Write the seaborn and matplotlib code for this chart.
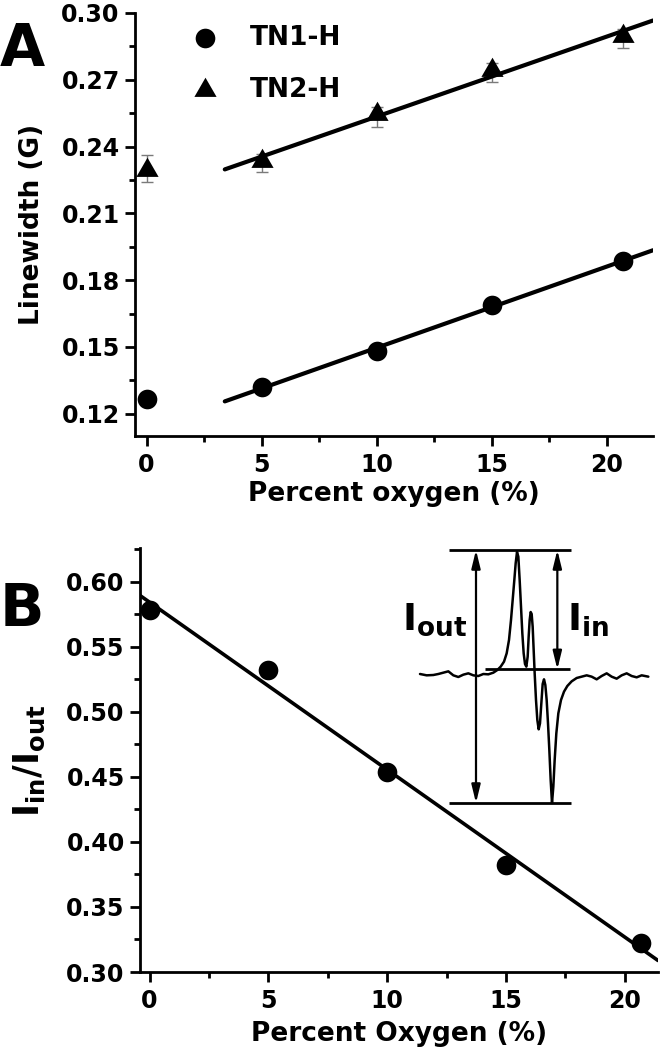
# ============================================
# LINEWIDTH & PEAK RATIO VS OXYGEN
# ============================================

import numpy as np
import pandas as pd
import seaborn as sns
import matplotlib.pyplot as plt
import matplotlib.ticker as mtick

# ============================================
# DATA
# ============================================

oxygen = [0, 5, 10, 15, 20.7]

tn1_width = [0.1267, 0.1321, 0.1480, 0.1690, 0.1885]
tn2_width = [0.2296, 0.2336, 0.2546, 0.2746, 0.2896]
# error bars: lower / upper parts (upper mostly hidden under the marker)
tn2_err_low = [0.0057, 0.0052, 0.0057, 0.0055, 0.0052]
tn2_err_high = [0.0064, 0.0030, 0.0030, 0.0030, 0.0030]

ratio_b = [0.5785, 0.5320, 0.4540, 0.3823, 0.3222]

fit_span_a = [3.4, 22.0]
fit_span_b = [-0.4, 21.4]

# inset spectrum trace (inset-local units, y grows downwards)
spec_x = [60, 80, 100, 115, 130, 145, 160, 175, 190, 205, 220, 235, 250,
          265, 280, 292, 302, 312, 320, 327, 333, 338, 343, 347, 351, 355,
          359, 363, 367, 371, 375, 379, 383, 386, 389, 392, 395, 398, 401,
          404, 408, 412, 416, 420, 424, 428, 432, 436, 440, 444, 448, 452,
          456, 460, 464, 469, 475, 483, 492, 502, 515, 530, 545, 560, 575,
          590, 605, 620, 635, 650, 665, 680, 695, 710, 725, 745]
spec_y = [462, 466, 465, 462, 458, 454, 466, 471, 464, 460, 466, 468, 462,
          463, 458, 450, 440, 425, 400, 360, 300, 240, 180, 130, 96, 110,
          180, 260, 340, 400, 432, 440, 410, 350, 300, 276, 282, 320, 390,
          460, 540, 600, 628, 610, 550, 492, 478, 495, 540, 610, 690, 780,
          849, 800, 720, 640, 580, 540, 515, 498, 484, 474, 470, 466, 470,
          478, 468, 460, 470, 476, 466, 460, 468, 472, 466, 470]

# ============================================
# VISUAL THEME
# ============================================

sns.set_theme(
    style="ticks",
    rc={
        "axes.linewidth": 2.0,
        "xtick.major.width": 2.0,
        "ytick.major.width": 2.0,
        "xtick.minor.width": 2.0,
        "ytick.minor.width": 2.0,
        "xtick.major.size": 7,
        "ytick.major.size": 7,
        "xtick.minor.size": 4,
        "ytick.minor.size": 4,
        "xtick.major.pad": 5,
        "ytick.major.pad": 4,
        "axes.edgecolor": "black",
        "xtick.color": "black",
        "ytick.color": "black",
        "text.color": "black",
        "axes.labelcolor": "black",
    }
)
plt.rcParams["font.family"] = ["DejaVu Sans"]
plt.rcParams["font.weight"] = "bold"
plt.rcParams["axes.labelweight"] = "bold"
plt.rcParams["mathtext.fontset"] = "dejavusans"

# triangle centred on its centroid (as Origin draws it)
TRIANGLE = [(0, 1), (-0.866, -0.5), (0.866, -0.5), (0, 1)]

fig = plt.figure(figsize=(6.6, 10.5), dpi=100)

# ============================================
# PANEL A: LINEWIDTH
# ============================================

ax = fig.add_axes([135 / 660, 1 - 436 / 1050, 518 / 660, 423 / 1050])

df_tn1 = pd.DataFrame({"oxygen": oxygen, "width": tn1_width})
df_tn2 = pd.DataFrame({"oxygen": oxygen, "width": tn2_width})

ax.errorbar(oxygen, tn2_width, yerr=[tn2_err_low, tn2_err_high],
            fmt="none", ecolor="#7a7a7a", elinewidth=1.0, capsize=4,
            capthick=1.0, zorder=2)

sns.scatterplot(data=df_tn1, x="oxygen", y="width", marker="o",
                color="black", s=200, linewidth=0, label="TN1-H",
                ax=ax, zorder=3)
sns.scatterplot(data=df_tn2, x="oxygen", y="width", marker=TRIANGLE,
                color="black", s=340, linewidth=0, label="TN2-H",
                ax=ax, zorder=3)

# linear fits (x = 0 point left out, as in the original)
for vals in [tn1_width, tn2_width]:
    k, b = np.polyfit(oxygen[1:], vals[1:], 1)
    sns.lineplot(x=fit_span_a, y=[k * v + b for v in fit_span_a],
                 color="black", linewidth=3.0, ax=ax, zorder=2)

ax.set_xlim(-0.5, 22)
ax.set_ylim(0.11, 0.30)
ax.xaxis.set_major_locator(mtick.MultipleLocator(5))
ax.xaxis.set_minor_locator(mtick.MultipleLocator(2.5))
ax.yaxis.set_major_locator(mtick.MultipleLocator(0.03))
ax.yaxis.set_minor_locator(mtick.MultipleLocator(0.015))
ax.yaxis.set_major_formatter(mtick.FormatStrFormatter("%.2f"))
ax.tick_params(labelsize=17, which="both")
sns.despine(ax=ax)

ax.set_xlabel("Percent oxygen (%)", fontsize=19, labelpad=3)
ax.set_ylabel("Linewidth (G)", fontsize=19, labelpad=12)

ax.legend(
    loc="upper left", bbox_to_anchor=(0.11, 0.972),
    frameon=False, fontsize=19, handlelength=1.0,
    handletextpad=1.2, labelspacing=1.0, borderpad=0, borderaxespad=0
)

fig.text(22 / 660, 1 - 50 / 1050, "A", fontsize=42, fontweight="bold",
         ha="center", va="center")

# ============================================
# PANEL B: PEAK RATIO
# ============================================

ax = fig.add_axes([140 / 660, 1 - 972 / 1050, 518 / 660, 424 / 1050])

df_b = pd.DataFrame({"oxygen": oxygen, "ratio": ratio_b})

sns.scatterplot(data=df_b, x="oxygen", y="ratio", color="black", s=200,
                linewidth=0, ax=ax, zorder=3)

k, b = np.polyfit(oxygen, ratio_b, 1)
sns.lineplot(x=fit_span_b, y=[k * v + b for v in fit_span_b],
             color="black", linewidth=2.6, ax=ax, zorder=2)

ax.set_xlim(-0.4, 21.4)
ax.set_ylim(0.30, 0.626)
ax.xaxis.set_major_locator(mtick.MultipleLocator(5))
ax.xaxis.set_minor_locator(mtick.MultipleLocator(2.5))
ax.yaxis.set_major_locator(mtick.MultipleLocator(0.05))
ax.yaxis.set_minor_locator(mtick.MultipleLocator(0.025))
ax.yaxis.set_major_formatter(mtick.FormatStrFormatter("%.2f"))
ax.tick_params(labelsize=17, which="both")
sns.despine(ax=ax)

ax.set_xlabel("Percent Oxygen (%)", fontsize=19, labelpad=6)
ax.set_ylabel(r"$\mathbf{I}_{\mathbf{in}}\mathbf{/I}_{\mathbf{out}}$",
              fontsize=25, labelpad=14)

fig.text(22 / 660, 1 - 610 / 1050, "B", fontsize=42, fontweight="bold",
         ha="center", va="center")

# ============================================
# INSET: SPECTRUM SKETCH
# ============================================

ins = fig.add_axes([400 / 660, 1 - 810 / 1050, 260 / 660, 290 / 1050])
ins.set_xlim(0, 780)
ins.set_ylim(870, 0)
ins.axis("off")

sns.lineplot(x=spec_x, y=spec_y, color="black", linewidth=1.8, ax=ins,
             sort=False)

ins.hlines([90, 448, 849], [148, 255, 148], [512, 510, 512],
           color="black", linewidth=2.0)

arrow = dict(arrowstyle="<|-|>,head_length=0.9,head_width=0.22",
             color="black", lw=1.6, shrinkA=0, shrinkB=0)
ins.annotate("", xy=(228, 90), xytext=(228, 849), arrowprops=arrow)
ins.annotate("", xy=(472, 90), xytext=(472, 448), arrowprops=arrow)

ins.text(105, 300, r"$\mathbf{I}_{\mathbf{out}}$", fontsize=27,
         ha="center", va="center")
ins.text(565, 300, r"$\mathbf{I}_{\mathbf{in}}$", fontsize=27,
         ha="center", va="center")

fig.savefig("out.png", dpi=100)
